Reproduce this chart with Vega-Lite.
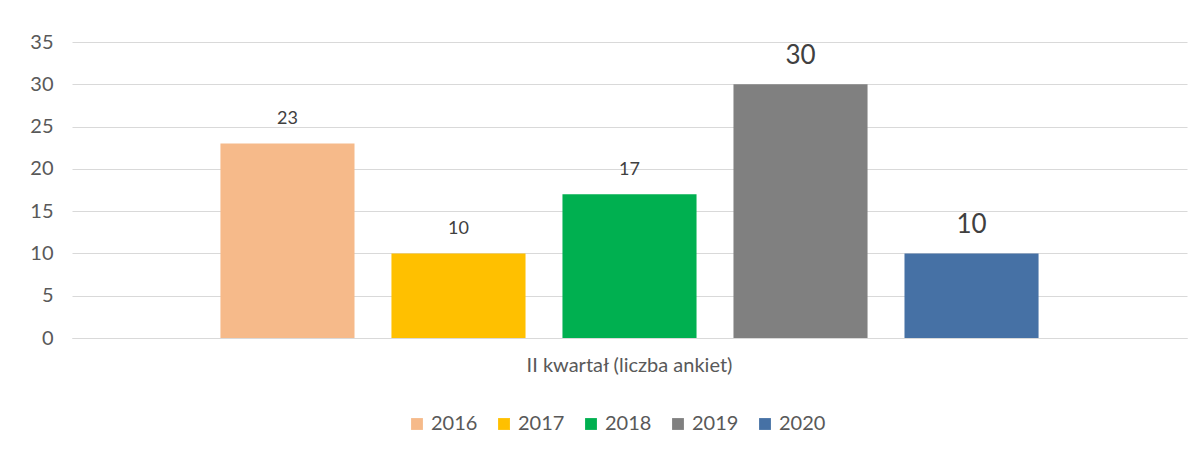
{
  "$schema": "https://vega.github.io/schema/vega-lite/v6.json",
  "width": 1115,
  "height": 296,
  "autosize": {"type": "none"},
  "padding": {"left": 72, "top": 42, "right": 15, "bottom": 117},
  "background": "white",
  "config": {
    "font": "Lato",
    "view": {"stroke": null}
  },
  "data": {
    "values": [
      {"kwartal": "II kwartał (liczba ankiet)", "rok": "2016", "liczba": 23},
      {"kwartal": "II kwartał (liczba ankiet)", "rok": "2017", "liczba": 10},
      {"kwartal": "II kwartał (liczba ankiet)", "rok": "2018", "liczba": 17},
      {"kwartal": "II kwartał (liczba ankiet)", "rok": "2019", "liczba": 30},
      {"kwartal": "II kwartał (liczba ankiet)", "rok": "2020", "liczba": 10}
    ]
  },
  "encoding": {
    "x": {
      "field": "kwartal",
      "type": "nominal",
      "scale": {"paddingInner": 0, "paddingOuter": 0.152},
      "axis": {
        "title": null,
        "labelAngle": 0,
        "labelFontSize": 20,
        "labelColor": "#595959",
        "labelPadding": 17,
        "labelLimit": 0,
        "ticks": false,
        "domainColor": "#d9d9d9",
        "domainWidth": 1
      }
    },
    "xOffset": {
      "field": "rok",
      "type": "nominal",
      "scale": {"paddingInner": 0.216, "paddingOuter": 0.108}
    },
    "y": {
      "field": "liczba",
      "type": "quantitative",
      "scale": {"domain": [0, 35]},
      "axis": {
        "title": null,
        "values": [0, 5, 10, 15, 20, 25, 30, 35],
        "labelFontSize": 20,
        "labelColor": "#595959",
        "ticks": false,
        "tickSize": 0,
        "labelPadding": 19,
        "domain": false,
        "gridColor": "#d9d9d9",
        "gridWidth": 1
      }
    }
  },
  "layer": [
    {
      "mark": {"type": "bar"},
      "encoding": {
        "color": {
          "field": "rok",
          "type": "nominal",
          "scale": {
            "domain": ["2016", "2017", "2018", "2019", "2020"],
            "range": ["#F6BA8A", "#FFC000", "#00B050", "#808080", "#4671A5"]
          },
          "legend": {
            "title": null,
            "orient": "none",
            "legendX": 335,
            "legendY": 372,
            "direction": "horizontal",
            "symbolType": "square",
            "symbolSize": 140,
            "symbolStrokeWidth": 0,
            "labelFontSize": 20,
            "labelColor": "#595959",
            "labelOffset": 4,
            "columnPadding": 16
          }
        }
      }
    },
    {
      "transform": [{"filter": "datum.rok < '2019'"}],
      "mark": {"type": "text", "baseline": "bottom", "dy": -15, "fontSize": 18, "color": "#404040"},
      "encoding": {"text": {"field": "liczba", "type": "quantitative"}}
    },
    {
      "transform": [{"filter": "datum.rok >= '2019'"}],
      "mark": {"type": "text", "baseline": "bottom", "dy": -15, "fontSize": 26, "color": "#404040"},
      "encoding": {"text": {"field": "liczba", "type": "quantitative"}}
    }
  ]
}
